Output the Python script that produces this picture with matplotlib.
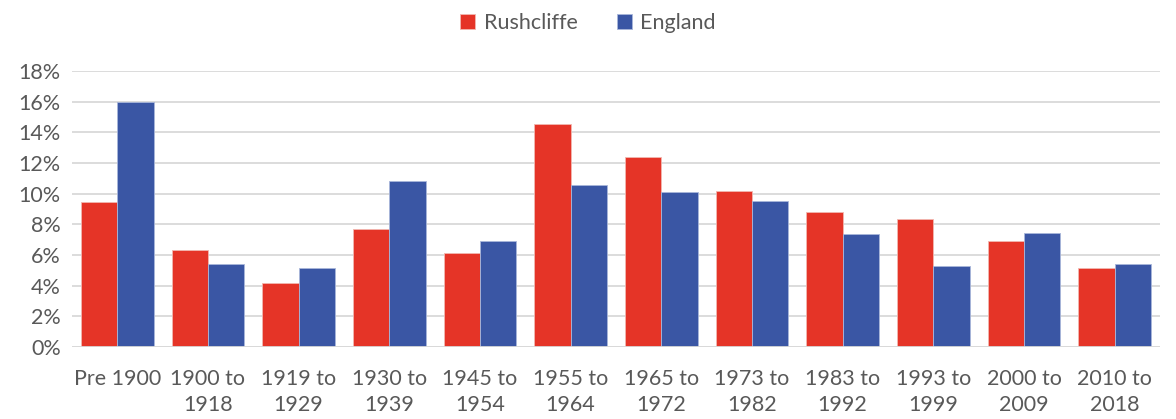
import numpy as np
import matplotlib.pyplot as plt
from matplotlib.ticker import PercentFormatter

# age of dwelling stock, share of all dwellings
periods = ['Pre 1900', '1900 to\n1918', '1919 to\n1929', '1930 to\n1939', '1945 to\n1954',
           '1955 to\n1964', '1965 to\n1972', '1973 to\n1982', '1983 to\n1992', '1993 to\n1999',
           '2000 to\n2009', '2010 to\n2018']
rushcliffe = [9.45, 6.33, 4.17, 7.7, 6.13, 14.55, 12.4, 10.2, 8.8, 8.35, 6.9, 5.13]
england = [16.0, 5.41, 5.15, 10.83, 6.9, 10.57, 10.1, 9.5, 7.4, 5.3, 7.45, 5.43]

plt.rcParams['font.family'] = ['Lato', 'DejaVu Sans']
grey = '#595959'

fig = plt.figure(figsize=(11.76, 4.19), dpi=100)
ax = fig.add_axes([72/1176, 72/419, 1088/1176, 276/419])

x = np.arange(len(periods))
w = 0.4
ax.bar(x - w/2, rushcliffe, w, color='#E53427', edgecolor='#F2B8B0', linewidth=0.6, label='Rushcliffe', zorder=3)
ax.bar(x + w/2, england, w, color='#3A56A4', edgecolor='#A9B6DA', linewidth=0.6, label='England', zorder=3)

ax.set_xlim(-0.5, len(periods) - 0.5)
ax.set_ylim(0, 18)
ax.set_yticks(range(0, 19, 2))
ax.yaxis.set_major_formatter(PercentFormatter(decimals=0))
ax.set_xticks(x)
ax.set_xticklabels(periods, linespacing=1.35)
ax.grid(axis='y', color='#D9D9D9', linewidth=1.3, zorder=0)
for s in ax.spines.values():
    s.set_visible(False)
ax.axhline(0, color='#D9D9D9', linewidth=1.3, zorder=4)
ax.tick_params(length=0, labelsize=15.5, colors=grey)
ax.tick_params(axis='x', pad=16)
ax.tick_params(axis='y', pad=8)

fig.legend(loc='upper center', bbox_to_anchor=(0.5, 1.015), ncol=2, frameon=False,
           fontsize=15.5, labelcolor=grey, handlelength=0.7, handleheight=0.7,
           handletextpad=0.4, columnspacing=1.8)

fig.savefig('out.png')
